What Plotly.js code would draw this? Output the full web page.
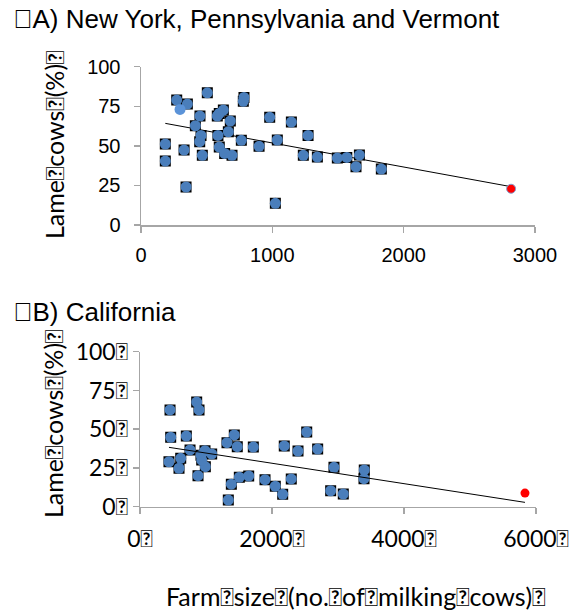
<!DOCTYPE html>
<html>
<head>
<meta charset="utf-8">
<script src="https://cdn.plot.ly/plotly-3.0.1.min.js"></script>
<style>html,body{margin:0;padding:0;background:#fff;}#chart{width:576px;height:610px;}</style>
</head>
<body>
<div id="chart"></div>
<script>
// Tofu (missing glyph) marker as seen in the reference text
const T = '\uE000';

// Panel A: New York, Pennsylvania and Vermont
const nyFarmSize = [185,185,272,353,328,343,414,449,457,447,467,505,581,596,627,586,596,637,693,665,680,784,779,764,899,980,1038,1023,1145,1236,1272,1343,1495,1567,1637,1663,1830];
const nyLame     = [51.1,40.4,78.9,76.4,47.3,24.0,62.7,68.8,56.6,52.6,44.0,83.5,68.8,70.5,72.6,56.6,49.2,45.2,44.0,58.9,65.7,80.6,78.1,53.5,49.7,68.0,53.7,13.7,65.0,44.0,56.6,42.9,42.3,42.7,36.8,44.2,35.3];
const nyExtraX = [297];
const nyExtraY = [73.0];
const nyRedX = [2818];
const nyRedY = [22.9];
const nyTrendX = [185, 2818];
const nyTrendY = [64.2, 24.2];
const nyXTicks = [0, 1000, 2000, 3000];
const nyYTicks = [0, 25, 50, 75, 100];

// Panel B: California
const caFarmSize = [455,465,439,591,617,702,758,859,894,879,924,985,990,935,1086,1318,1429,1474,1338,1384,1505,1647,1717,1894,2050,2162,2186,2292,2394,2526,2692,2939,2889,3080,3398,3394];
const caLame     = [62.4,44.8,29.0,24.8,31.2,45.6,36.6,67.5,62.4,20.0,33.2,36.1,25.8,30.1,34.0,41.3,46.3,38.7,4.3,14.5,19.0,19.8,38.5,17.4,13.2,8.0,39.2,17.9,35.9,48.2,37.2,25.4,10.3,8.2,23.7,18.1];
const caRedX = [5833];
const caRedY = [8.8];
const caTrendX = [439, 5833];
const caTrendY = [38.3, 2.8];
const caXTicks = [0, 2000, 4000, 6000];
const caYTicks = [0, 25, 50, 75, 100];

const blue = '#4a7ebb';
const calib = 'Lato, "Liberation Sans", sans-serif';
const arial = '"Liberation Sans", Arial, sans-serif';

function pts(x, y, xa, ya) {
  return [
    {x:x, y:y, xaxis:xa, yaxis:ya, type:'scatter', mode:'markers', hoverinfo:'skip',
     marker:{symbol:'square', size:11, color:'#000'}},
    {x:x, y:y, xaxis:xa, yaxis:ya, type:'scatter', mode:'markers', hoverinfo:'skip',
     marker:{symbol:'circle', size:11, color:blue}}
  ];
}

const data = [
  {x:nyTrendX, y:nyTrendY, xaxis:'x', yaxis:'y', type:'scatter', mode:'lines', line:{color:'#000', width:1}},
  ...pts(nyFarmSize, nyLame, 'x', 'y'),
  {x:nyExtraX, y:nyExtraY, xaxis:'x', yaxis:'y', type:'scatter', mode:'markers', marker:{size:11, color:'#5b93d8'}},
  {x:nyRedX, y:nyRedY, xaxis:'x', yaxis:'y', type:'scatter', mode:'markers', marker:{size:9, color:'#ff0000', line:{color:'#7fa0d0', width:1}}},
  ...pts(caFarmSize, caLame, 'x2', 'y2'),
  {x:caTrendX, y:caTrendY, xaxis:'x2', yaxis:'y2', type:'scatter', mode:'lines', line:{color:'#000', width:1}},
  {x:caRedX, y:caRedY, xaxis:'x2', yaxis:'y2', type:'scatter', mode:'markers', marker:{size:9, color:'#ff0000'}}
];

const axBase = {showline:true, linecolor:'#a6a6a6', linewidth:1.5, ticks:'outside', ticklen:6,
  tickcolor:'#a6a6a6', tickwidth:1.5, showgrid:false, zeroline:false, fixedrange:true};

const layout = {
  width:576, height:610, margin:{l:0, r:0, t:0, b:0},
  paper_bgcolor:'#fff', plot_bgcolor:'rgba(0,0,0,0)', showlegend:false,
  xaxis: Object.assign({}, axBase, {domain:[141/576, 535/576], range:[0,3000], anchor:'y',
    tickvals:nyXTicks, ticktext:nyXTicks.map(String), ticklabelstandoff:5,
    tickfont:{family:arial, size:20, color:'#000'}}),
  yaxis: Object.assign({}, axBase, {domain:[385/610, 543.3/610], range:[0,100], anchor:'x',
    tickvals:nyYTicks, ticktext:nyYTicks.map(String), ticklabelstandoff:9,
    tickfont:{family:arial, size:20, color:'#000'}}),
  xaxis2: Object.assign({}, axBase, {domain:[140/576, 536/576], range:[0,6000], anchor:'y2',
    tickvals:caXTicks, ticktext:caXTicks.map(v => v + T), ticklabelstandoff:5,
    tickfont:{family:calib, size:23, color:'#000'}}),
  yaxis2: Object.assign({}, axBase, {domain:[103.3/610, 258.3/610], range:[0,100], anchor:'x2',
    tickvals:caYTicks, ticktext:caYTicks.map(v => v + T), tickfont:{family:calib, size:23, color:'#000'}}),
  annotations: [
    {text:T + 'A) New York, Pennsylvania and Vermont', xref:'paper', yref:'paper', x:11/576, y:1-19/610,
     xanchor:'left', yanchor:'middle', showarrow:false, font:{family:arial, size:26, color:'#000'}},
    {text:T + 'B) California', xref:'paper', yref:'paper', x:11/576, y:1-312/610,
     xanchor:'left', yanchor:'middle', showarrow:false, font:{family:arial, size:26, color:'#000'}},
    {text:'Lame' + T + 'cows' + T + '(%)' + T, xref:'paper', yref:'paper', x:54/576, y:1-145/610,
     xanchor:'center', yanchor:'middle', textangle:-90, showarrow:false, font:{family:calib, size:25, color:'#000'}},
    {text:'Lame' + T + 'cows' + T + '(%)' + T, xref:'paper', yref:'paper', x:53/576, y:1-424/610,
     xanchor:'center', yanchor:'middle', textangle:-90, showarrow:false, font:{family:calib, size:25, color:'#000'}},
    {text:'Farm' + T + 'size' + T + '(no.' + T + 'of' + T + 'milking' + T + 'cows)' + T, xref:'paper', yref:'paper',
     x:355/576, y:1-596/610, xanchor:'center', yanchor:'middle', showarrow:false, font:{family:calib, size:25, color:'#000'}}
  ]
};

Plotly.newPlot('chart', data, layout, {displayModeBar:false, staticPlot:true});
</script>
</body>
</html>
